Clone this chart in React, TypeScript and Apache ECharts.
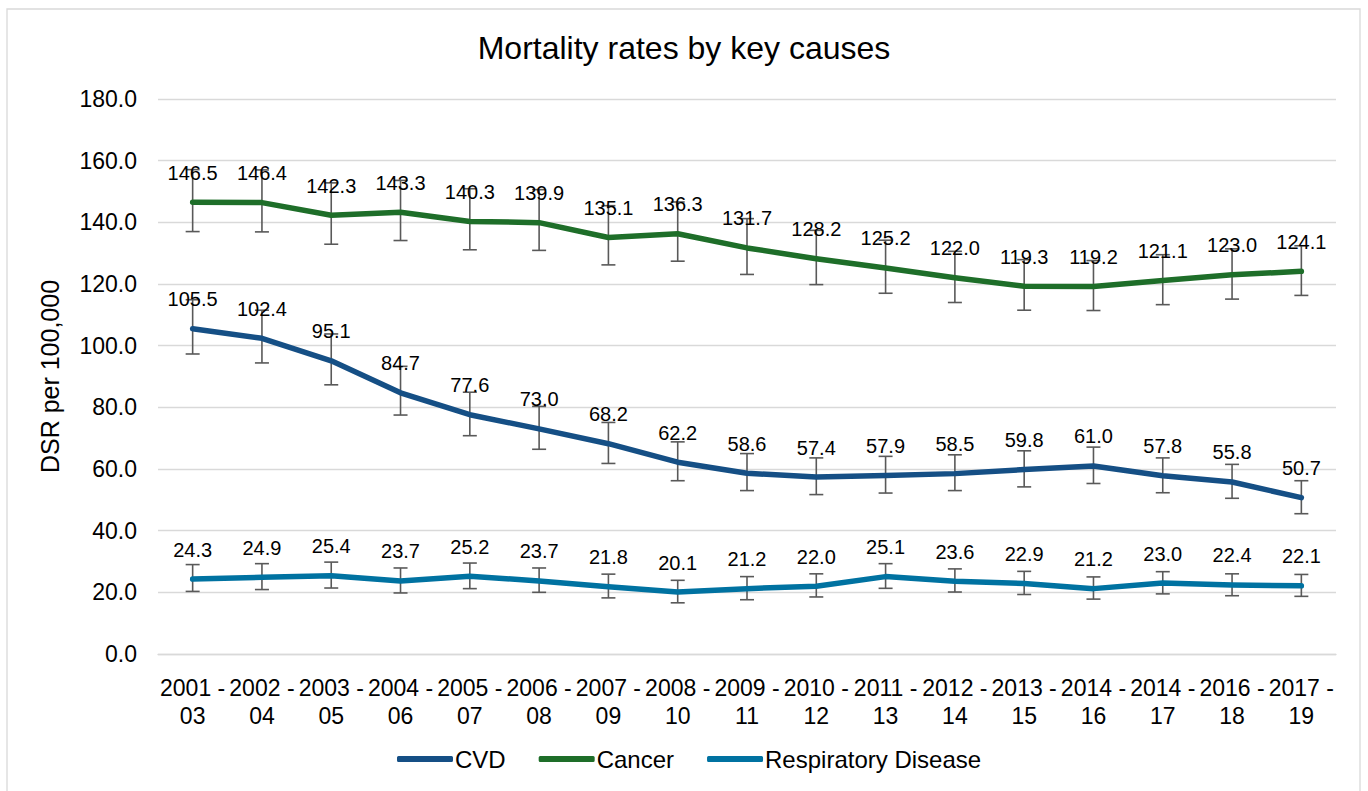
import React, { useEffect, useRef } from "react";
import * as echarts from "echarts";

const categories = ["2001 - 03", "2002 - 04", "2003 - 05", "2004 - 06", "2005 - 07", "2006 - 08", "2007 - 09", "2008 - 10", "2009 - 11", "2010 - 12", "2011 - 13", "2012 - 14", "2013 - 15", "2014 - 16", "2014 - 17", "2016 - 18", "2017 - 19"];

const cvd = [105.5, 102.4, 95.1, 84.7, 77.6, 73.0, 68.2, 62.2, 58.6, 57.4, 57.9, 58.5, 59.8, 61.0, 57.8, 55.8, 50.7];
const cvdLow = [97.3, 94.4, 87.3, 77.5, 70.8, 66.4, 61.8, 56.2, 53.0, 51.7, 52.2, 53.0, 54.2, 55.3, 52.3, 50.5, 45.5];
const cvdHigh = [114.9, 111.5, 103.8, 93.3, 84.9, 80.3, 75.1, 68.8, 65.0, 63.6, 64.1, 64.6, 65.9, 67.1, 63.6, 61.5, 56.2];

const cancer = [146.5, 146.4, 142.3, 143.3, 140.3, 139.9, 135.1, 136.3, 131.7, 128.2, 125.2, 122.0, 119.3, 119.2, 121.1, 123.0, 124.1];
const cancerLow = [137.0, 136.9, 132.9, 134.1, 131.1, 130.9, 126.2, 127.4, 123.1, 119.8, 117.0, 114.0, 111.5, 111.4, 113.3, 115.1, 116.3];
const cancerHigh = [157.1, 157.0, 152.8, 153.6, 150.9, 150.6, 145.4, 146.6, 141.2, 137.4, 134.2, 130.6, 127.9, 127.6, 129.5, 131.4, 132.4];

const resp = [24.3, 24.9, 25.4, 23.7, 25.2, 23.7, 21.8, 20.1, 21.2, 22.0, 25.1, 23.6, 22.9, 21.2, 23.0, 22.4, 22.1];
const respLow = [20.3, 20.9, 21.4, 19.8, 21.2, 20.0, 18.2, 16.6, 17.6, 18.5, 21.3, 20.1, 19.3, 17.8, 19.5, 18.9, 18.7];
const respHigh = [29.0, 29.3, 29.8, 27.9, 29.5, 27.9, 25.9, 23.9, 25.1, 26.0, 29.3, 27.6, 26.8, 25.0, 26.7, 26.0, 25.8];

const yTicks = { min: 0, max: 180, interval: 20 };

const FONT = "'Liberation Sans', Arial, sans-serif";

function errorSeries(name: string, low: number[], high: number[]) {
  return {
    name: name + " error",
    type: "custom",
    z: 1,
    silent: true,
    data: low.map((l, i) => [i, l, high[i]]),
    renderItem: (params: any, api: any) => {
      const x = api.value(0);
      const lo = api.coord([x, api.value(1)]);
      const hi = api.coord([x, api.value(2)]);
      const cap = 7;
      const style = { stroke: "#595959", lineWidth: 1.6 };
      return {
        type: "group",
        children: [
          { type: "line", shape: { x1: lo[0], y1: lo[1], x2: hi[0], y2: hi[1] }, style },
          { type: "line", shape: { x1: lo[0] - cap, y1: lo[1], x2: lo[0] + cap, y2: lo[1] }, style },
          { type: "line", shape: { x1: hi[0] - cap, y1: hi[1], x2: hi[0] + cap, y2: hi[1] }, style },
        ],
      };
    },
  };
}

function lineSeries(name: string, data: number[], color: string) {
  return {
    name,
    type: "line",
    z: 3,
    data,
    symbol: "circle",
    symbolSize: 1,
    showSymbol: true,
    itemStyle: { color },
    lineStyle: { color, width: 5.5, cap: "round", join: "round" },
    label: {
      show: true,
      position: "top",
      distance: 19,
      color: "#000",
      fontFamily: FONT,
      fontSize: 20,
      formatter: (p: any) => Number(p.value).toFixed(1),
    },
  };
}

export default function App() {
  const ref = useRef<HTMLDivElement>(null);
  useEffect(() => {
    if (!ref.current) return;
    const chart = echarts.init(ref.current, undefined, { renderer: "svg" });
    chart.setOption({
      animation: false,
      backgroundColor: "#fff",
      textStyle: { fontFamily: FONT },
      title: {
        text: "Mortality rates by key causes",
        left: "center",
        top: 27,
        textStyle: { fontFamily: FONT, fontSize: 32, fontWeight: "normal", color: "#000" },
      },
      graphic: [
        {
          type: "rect",
          shape: { x: 7, y: 9, width: 1353, height: 800 },
          style: { fill: "none", stroke: "#d9d9d9", lineWidth: 1.3 },
          silent: true,
        },
      ],
      legend: {
        data: ["CVD", "Cancer", "Respiratory Disease"],
        bottom: 15,
        left: 392,
        icon: "roundRect",
        itemWidth: 56,
        itemHeight: 6,
        itemGap: 33,
        textStyle: { fontFamily: FONT, fontSize: 24, color: "#000", padding: [0, 0, 0, -3] },
      },
      grid: { left: 158, right: 32, top: 99, bottom: 137, containLabel: false },
      xAxis: {
        type: "category",
        data: categories,
        boundaryGap: true,
        axisLine: { show: true, lineStyle: { color: "#d9d9d9", width: 1.3 } },
        axisTick: { show: false },
        axisLabel: {
          interval: 0,
          margin: 20,
          color: "#000",
          fontFamily: FONT,
          fontSize: 23,
          lineHeight: 28,
          formatter: (s: string) => s.replace(" - ", " -\n"),
        },
      },
      yAxis: {
        type: "value",
        min: yTicks.min,
        max: yTicks.max,
        interval: yTicks.interval,
        name: "DSR per 100,000",
        nameLocation: "middle",
        nameGap: 96,
        nameTextStyle: { fontFamily: FONT, fontSize: 25, color: "#000" },
        axisLine: { show: false },
        axisTick: { show: false },
        axisLabel: {
          color: "#000",
          fontFamily: FONT,
          fontSize: 23,
          margin: 21,
          formatter: (v: number) => v.toFixed(1),
        },
        splitLine: { lineStyle: { color: "#d9d9d9", width: 1.3 } },
      },
      series: [
        errorSeries("CVD", cvdLow, cvdHigh),
        errorSeries("Cancer", cancerLow, cancerHigh),
        errorSeries("Respiratory Disease", respLow, respHigh),
        lineSeries("CVD", cvd, "#154F85"),
        lineSeries("Cancer", cancer, "#1E6E29"),
        lineSeries("Respiratory Disease", resp, "#0072A1"),
      ],
    });
    return () => chart.dispose();
  }, []);
  return (
    <div
      ref={ref}
      style={{ position: "fixed", left: 0, top: 0, width: 1368, height: 791 }}
    />
  );
}
